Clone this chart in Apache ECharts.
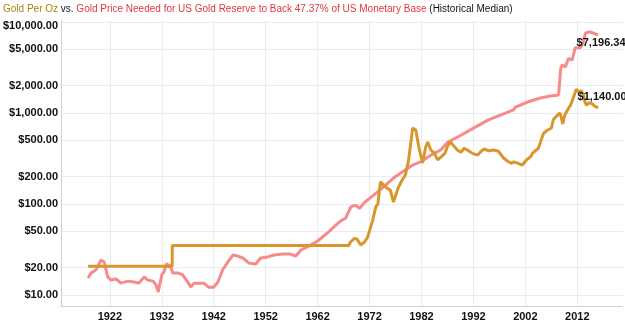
<!DOCTYPE html>
<html lang="en">
<head>
    <meta charset="UTF-8">
    <title>Gold Per Oz vs. Gold Price Needed</title>
    <script src="https://cdn.jsdelivr.net/npm/echarts@6/dist/echarts.min.js"></script>
    <style>
        body { margin: 0; background: #fff; }
        #main { width: 625px; height: 325px; }
    </style>
</head>
<body>
    <div id="main"></div>
    <script>
        // gold per oz (USD)
        const goldYears = [1917.8, 1934.0, 1934.01, 1968.0, 1968.3, 1969.1, 1969.6, 1970.3, 1971.0, 1971.6, 1972.6, 1973.2, 1973.6, 1974.1, 1974.7, 1975.3, 1976.0, 1976.6, 1977.5, 1978.2, 1978.9, 1979.5, 1980.0, 1980.3, 1980.9, 1981.5, 1982.2, 1982.8, 1983.2, 1983.8, 1984.5, 1985.1, 1985.8, 1986.5, 1987.1, 1987.6, 1988.3, 1988.9, 1989.6, 1990.2, 1990.9, 1991.8, 1992.8, 1993.5, 1994.0, 1995.0, 1995.9, 1996.8, 1997.8, 1998.6, 1999.3, 1999.8, 2000.6, 2001.4, 2002.2, 2003.0, 2003.4, 2004.5, 2005.5, 2006.3, 2007.0, 2007.4, 2008.2, 2008.7, 2009.2, 2009.6, 2010.2, 2010.7, 2011.2, 2011.8, 2012.2, 2012.8, 2013.2, 2013.5, 2013.8, 2014.3, 2014.9, 2015.4, 2016.0];
        const goldPrices = [20.67, 20.67, 35, 35, 38, 42, 41, 35.5, 38, 43, 66, 93, 100, 175, 162, 150, 142, 105, 150, 180, 208, 300, 500, 682, 650, 420, 283, 420, 480, 392, 360, 305, 330, 360, 443, 480, 430, 392, 370, 410, 390, 360, 345, 380, 402, 385, 392, 380, 320, 295, 280, 290, 280, 268, 305, 330, 363, 410, 600, 650, 680, 850, 950, 1000, 760, 950, 1100, 1220, 1450, 1820, 1720, 1750, 1580, 1300, 1220, 1300, 1260, 1180, 1140];

        // gold price needed to back 47.37% of US monetary base (USD)
        const reqYears = [1917.8, 1918.4, 1919.3, 1919.8, 1920.3, 1920.9, 1921.6, 1922.2, 1923.2, 1924.1, 1925.5, 1926.6, 1927.6, 1928.6, 1929.3, 1930.3, 1930.9, 1931.3, 1931.5, 1932.0, 1932.4, 1933.0, 1933.2, 1933.6, 1934.1, 1935.1, 1936.0, 1937.0, 1937.6, 1938.2, 1939.1, 1940.1, 1941.0, 1942.0, 1942.8, 1943.7, 1944.7, 1945.7, 1946.6, 1947.6, 1948.8, 1950.1, 1951.0, 1952.4, 1953.6, 1955.3, 1956.8, 1957.8, 1958.8, 1960.3, 1962.0, 1963.9, 1965.5, 1966.4, 1967.4, 1968.4, 1969.3, 1970.1, 1971.1, 1972.8, 1974.7, 1976.6, 1978.6, 1980.3, 1981.8, 1983.8, 1985.7, 1987.1, 1989.6, 1992.0, 1994.9, 1997.2, 1999.7, 2000.1, 2002.4, 2004.9, 2006.8, 2008.4, 2008.8, 2009.1, 2009.7, 2010.3, 2011.0, 2011.6, 2012.6, 2013.0, 2013.6, 2014.5, 2016.0];
        const reqPrices = [15.4, 17.5, 18.8, 21.4, 24.2, 23, 15.8, 14.6, 15, 13.5, 14.2, 13.9, 13.5, 15.8, 14.6, 14.2, 12.9, 10.8, 10.5, 16.6, 17.9, 22.4, 20.3, 21.4, 17.5, 17.5, 16.6, 13.9, 12.2, 13.5, 13.5, 13.5, 12.2, 12.2, 13.9, 18.8, 23, 27.5, 26.8, 25.5, 22.4, 21.9, 25.5, 26.2, 27.5, 28.2, 28.2, 26.8, 31.2, 34.5, 39.2, 48, 58.7, 65, 70, 93, 97, 90, 105, 125, 154, 193, 230, 268, 290, 344, 392, 480, 570, 682, 840, 950, 1080, 1160, 1320, 1460, 1540, 1580, 3100, 3380, 3200, 4000, 3800, 5200, 5200, 5800, 7600, 7800, 7196.34];

        const yTicks = [10, 20, 50, 100, 200, 500, 1000, 2000, 5000, 10000];
        const xTicks = [1922, 1932, 1942, 1952, 1962, 1972, 1982, 1992, 2002, 2012];

        const toPairs = (xs, ys) => xs.map((x, i) => [x, Math.log10(ys[i])]);
        const money = v => '$' + v.toLocaleString('en-US', { minimumFractionDigits: 2, maximumFractionDigits: 2 });

        const chart = echarts.init(document.getElementById('main'));
        const gridColor = '#ececec';
        const titleFont = { fontSize: 10, fontFamily: 'Liberation Sans', fontWeight: 'normal', lineHeight: 12 };
        const tickFont = { color: '#111', fontWeight: 'bold', fontSize: 11, fontFamily: 'Liberation Sans' };

        chart.setOption({
            animation: false,
            title: {
                left: 3,
                top: 3,
                padding: 0,
                text: '{g|Gold Per Oz} {k|vs.} {r|Gold Price Needed for US Gold Reserve to Back 47.37% of US Monetary Base} {k|(Historical Median)}',
                textStyle: {
                    fontWeight: 'normal',
                    fontSize: 10,
                    lineHeight: 12,
                    rich: {
                        g: Object.assign({ color: '#ad7f0c' }, titleFont),
                        k: Object.assign({ color: '#111' }, titleFont),
                        r: Object.assign({ color: '#e2373c' }, titleFont)
                    }
                }
            },
            grid: { left: 60, right: 2, top: 20, bottom: 19 },
            xAxis: {
                type: 'value',
                min: 1912.6,
                max: 2020.8,
                axisLine: { lineStyle: { color: '#c8c8c8', type: 'dotted' } },
                axisTick: { show: false, customValues: xTicks },
                axisLabel: Object.assign({
                    customValues: xTicks,
                    formatter: v => String(Math.round(v)),
                    margin: 5
                }, tickFont),
                splitLine: { show: true, lineStyle: { color: gridColor } }
            },
            yAxis: {
                type: 'value',
                min: Math.log10(7.57),
                max: Math.log10(10520),
                axisLine: { show: true, lineStyle: { color: '#d0d0d0' } },
                axisTick: { show: false, customValues: yTicks.map(Math.log10) },
                axisLabel: Object.assign({
                    customValues: yTicks.map(Math.log10),
                    formatter: v => {
                        const n = Math.round(Math.pow(10, v));
                        // top label sits a little lower, inside the chart
                        return n === 10000 ? '{t|' + money(n) + '}' : money(n);
                    },
                    rich: { t: Object.assign({ padding: [7, 0, 0, 0] }, tickFont) },
                    margin: 3
                }, tickFont),
                splitLine: { show: true, lineStyle: { color: gridColor } }
            },
            series: [
                {
                    name: 'Needed',
                    type: 'line',
                    data: toPairs(reqYears, reqPrices),
                    showSymbol: false,
                    lineStyle: { color: '#f78a8a', width: 3 },
                    markPoint: {
                        symbol: 'circle',
                        symbolSize: 0,
                        data: [{ coord: [reqYears[reqYears.length - 1], Math.log10(reqPrices[reqPrices.length - 1])] }],
                        label: Object.assign({
                            show: true,
                            position: 'inside',
                            offset: [3, 8],
                            formatter: () => money(reqPrices[reqPrices.length - 1])
                        }, tickFont)
                    }
                },
                {
                    name: 'Gold',
                    type: 'line',
                    data: toPairs(goldYears, goldPrices),
                    showSymbol: false,
                    lineStyle: { color: '#d8962c', width: 3 },
                    markPoint: {
                        symbol: 'circle',
                        symbolSize: 0,
                        data: [{ coord: [goldYears[goldYears.length - 1], Math.log10(goldPrices[goldPrices.length - 1])] }],
                        label: Object.assign({
                            show: true,
                            position: 'inside',
                            offset: [4, -11],
                            formatter: () => money(goldPrices[goldPrices.length - 1])
                        }, tickFont)
                    }
                }
            ]
        });
    </script>
</body>
</html>
